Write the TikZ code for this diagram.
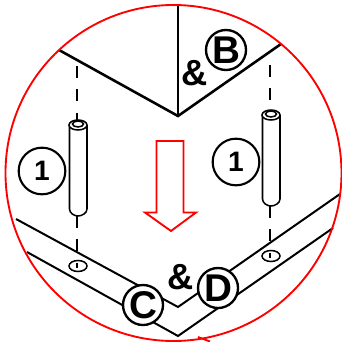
\documentclass[tikz,border=0pt]{standalone}
\usepackage{fontspec}
\setmainfont{Liberation Sans}
\usetikzlibrary{positioning,arrows.meta,calc,shapes.geometric}
\tikzset{
  callout/.style = {draw, circle, fill=white, line width=2pt, inner sep=0pt, minimum size=1.2cm,
                    font=\fontsize{33}{33}\selectfont\bfseries},
  calltwo/.style = {callout, line width=1.8pt, minimum size=1.4cm, font=\fontsize{24}{24}\selectfont\bfseries},
  amper/.style   = {inner sep=0pt, font=\fontsize{31}{31}\selectfont\bfseries},
  edge/.style    = {line width=1.7pt},
  heavy/.style   = {line width=2.2pt},
  guide/.style   = {line width=1.7pt, dash pattern=on 10pt off 10pt},
  peg/.style     = {line width=1.3pt, fill=white},
  hole/.style    = {draw, ellipse, line width=1.3pt, minimum width=0.54cm, minimum height=0.33cm, inner sep=0pt},
  redline/.style = {draw=red, line width=1.6pt},
}
\begin{document}
\begin{tikzpicture}[x=0.03cm,y=-0.03cm]
  \useasboundingbox (0,0) rectangle (342,342);
  % panel
  \coordinate (pl) at (59,50);
  \coordinate (pm) at (178,116);
  \coordinate (pr) at (281,44);
  \coordinate (pt) at (178,5);
  \draw[heavy] (pl) -- (pm) -- (pr);
  \draw[edge] (pt) -- (pm);
  % plate
  \coordinate (ua) at (16,219);
  \coordinate (ub) at (178,307);
  \coordinate (uc) at (340,194);
  \coordinate (la) at (27,252);
  \coordinate (lb) at (178,336);
  \coordinate (lc) at (333,228);
  \draw[edge] (ua) -- (ub) -- (uc);
  \draw[edge] (la) -- (lb) -- (lc);
  % holes
  \node[hole] (hl) at (78,266) {};
  \node[hole] (hr) at (271,256) {};
  % left peg
  \coordinate (gla) at (77,66);
  \coordinate (glb) at (77,121);
  \coordinate (glc) at (77,216);
  \coordinate (gld) at (77,268);
  \draw[guide] (gla) -- (glb);
  \draw[guide] (glc) -- (gld);
  \draw[peg] (69.5,125) -- (69.5,209) .. controls (69.5,213) and (74,216) .. (78,216)
    .. controls (82,216) and (87,213) .. (87,209) -- (87,125);
  \draw[peg] (78,125) ellipse (9 and 5);
  \draw[peg] (78,124) ellipse (5.5 and 3);
  % right peg
  \coordinate (gra) at (270,65);
  \coordinate (grb) at (270,111);
  \coordinate (grc) at (270,206);
  \coordinate (grd) at (270,258);
  \draw[guide] (gra) -- (grb);
  \draw[guide] (grc) -- (grd);
  \draw[peg] (262.5,115) -- (262.5,199) .. controls (262.5,203) and (267,206) .. (271,206)
    .. controls (275,206) and (280,203) .. (280,199) -- (280,115);
  \draw[peg] (271,115) ellipse (9 and 5);
  \draw[peg] (271,114) ellipse (5.5 and 3);
  % red
  \draw[redline] (173.5,173) circle (168);
  \draw[redline] (156.5,141) -- (183.5,141) -- (183.5,212.5) -- (196,212.5) -- (171,231)
    -- (145,212.5) -- (156.5,212.5) -- cycle;
  \draw[redline] (198,337) -- (210,341.5);
  % labels
  \node[callout] (B) at (226,50) {B};
  \node[callout] (C) at (143,305) {C};
  \node[callout] (D) at (218,288) {D};
  \node[calltwo] (n1) at (42,171) {1};
  \node[calltwo] (n2) at (236,162) {1};
  \node[amper] (and1) at (195,73) {\&};
  \node[amper] (and2) at (181,277) {\&};
\end{tikzpicture}
\end{document}
